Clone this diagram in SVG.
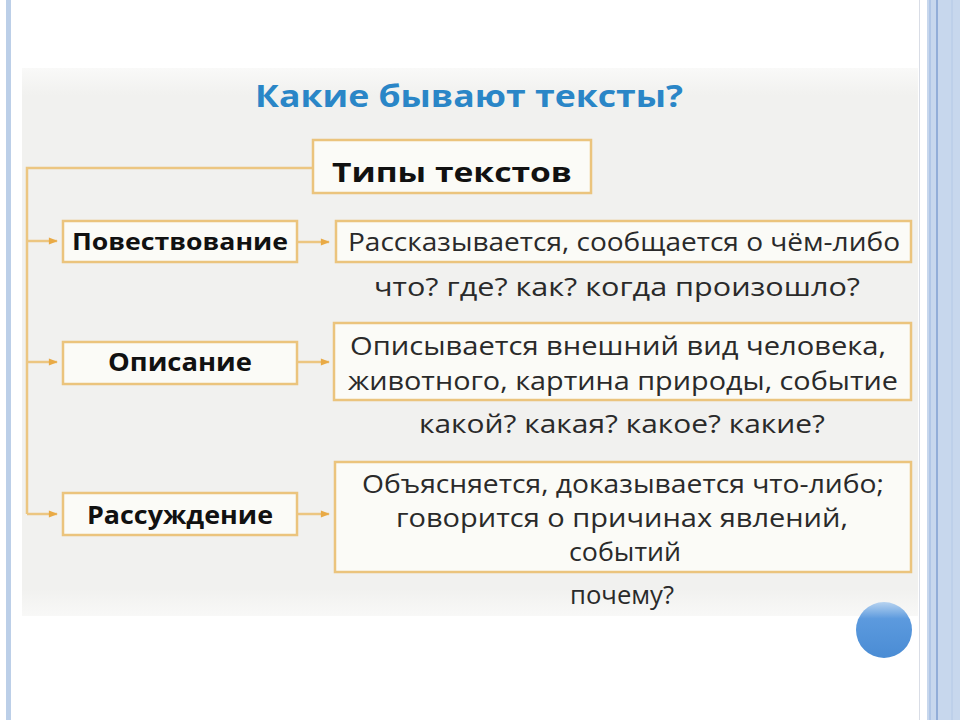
<svg xmlns="http://www.w3.org/2000/svg" width="960" height="720" viewBox="0 0 960 720">
<style>
.box{fill:#fbfbf7;stroke:#ebc47d;stroke-width:2.5}
.conn{fill:none;stroke:#ecc681;stroke-width:2.5}
.lbl{font-family:"Open Sans","DejaVu Sans",sans-serif;font-weight:700;fill:#111}
.txt{font-family:"Open Sans","DejaVu Sans",sans-serif;font-size:26px;fill:#2a2a2a}
</style>
<defs>
<marker id="ah" viewBox="0 0 10 10" refX="9" refY="5" markerWidth="11" markerHeight="9" markerUnits="userSpaceOnUse" orient="auto">
<path d="M0,1 L10,5 L0,9 Z" fill="#e9aa45"/>
</marker>
<linearGradient id="scan" x1="0" y1="0" x2="0" y2="1">
<stop offset="0" stop-color="#f9f9f8"/>
<stop offset="0.05" stop-color="#f1f1ef"/>
<stop offset="0.95" stop-color="#f1f1ef"/>
<stop offset="1" stop-color="#f8f8f7"/>
</linearGradient>
<linearGradient id="dot" x1="0" y1="0" x2="0" y2="1">
<stop offset="0" stop-color="#b7d3f0"/>
<stop offset="0.3" stop-color="#5c9ade"/>
<stop offset="1" stop-color="#4a8cd4"/>
</linearGradient>
</defs>
<rect x="0" y="0" width="960" height="720" fill="#ffffff"/>
<rect x="6" y="0" width="5" height="720" fill="#bccfe8"/>
<line x1="919.5" y1="0" x2="919.5" y2="720" stroke="#d9dde6" stroke-width="1"/>
<rect x="927" y="0" width="33" height="720" fill="#c7d7ed"/>
<line x1="930" y1="0" x2="930" y2="720" stroke="#a9c1e3" stroke-width="1.5"/>
<line x1="937" y1="0" x2="937" y2="720" stroke="#7f9fd1" stroke-width="1.5"/>
<line x1="952" y1="0" x2="952" y2="720" stroke="#b3c8e6" stroke-width="1"/>
<rect x="22" y="68" width="896" height="548" fill="url(#scan)"/>
<circle cx="884" cy="630" r="28" fill="url(#dot)"/>

<text x="255" y="107" font-family="'Open Sans','DejaVu Sans',sans-serif" font-weight="700" font-size="31" fill="#2a86c7" textLength="428" lengthAdjust="spacingAndGlyphs">Какие  бывают  тексты?</text>

<g id="connectors">
<path class="conn" d="M313,168 H27 V514"/>
<line class="conn" x1="27" y1="241" x2="57" y2="241" marker-end="url(#ah)"/>
<line class="conn" x1="27" y1="362" x2="57" y2="362" marker-end="url(#ah)"/>
<line class="conn" x1="27" y1="514" x2="57" y2="514" marker-end="url(#ah)"/>
<line class="conn" x1="297" y1="242" x2="329" y2="242" marker-end="url(#ah)"/>
<line class="conn" x1="297" y1="362" x2="329" y2="362" marker-end="url(#ah)"/>
<line class="conn" x1="297" y1="514" x2="329" y2="514" marker-end="url(#ah)"/>
</g>

<g id="types">
<rect class="box" x="313" y="140" width="278" height="53"/>
<text class="lbl" x="452" y="182" font-size="27" text-anchor="middle" textLength="240" lengthAdjust="spacingAndGlyphs">Типы  текстов</text>
</g>

<g id="narration">
<rect class="box" x="63" y="221" width="234" height="41"/>
<text class="lbl" x="180" y="250" font-size="24" text-anchor="middle" textLength="216" lengthAdjust="spacingAndGlyphs">Повествование</text>
</g>
<g id="narration-def">
<rect class="box" x="336" y="221" width="575" height="41"/>
<text class="txt" x="624" y="251" text-anchor="middle" textLength="552" lengthAdjust="spacingAndGlyphs">Рассказывается,  сообщается  о  чём-либо</text>
<text class="txt" x="617" y="296" text-anchor="middle" textLength="486" lengthAdjust="spacingAndGlyphs">что?  где?  как?  когда  произошло?</text>
</g>

<g id="description">
<rect class="box" x="63" y="342" width="234" height="42"/>
<text class="lbl" x="180" y="371" font-size="25" text-anchor="middle" textLength="144" lengthAdjust="spacingAndGlyphs">Описание</text>
</g>
<g id="description-def">
<rect class="box" x="334" y="323" width="577" height="77"/>
<text class="txt" x="618" y="355" text-anchor="middle" textLength="536" lengthAdjust="spacingAndGlyphs">Описывается  внешний  вид  человека,</text>
<text class="txt" x="623" y="390" text-anchor="middle" textLength="550" lengthAdjust="spacingAndGlyphs">животного,  картина  природы,  событие</text>
<text class="txt" x="622" y="433" text-anchor="middle" textLength="406" lengthAdjust="spacingAndGlyphs">какой?  какая?  какое?  какие?</text>
</g>

<g id="reasoning">
<rect class="box" x="63" y="493" width="234" height="42"/>
<text class="lbl" x="180" y="524" font-size="25" text-anchor="middle" textLength="186" lengthAdjust="spacingAndGlyphs">Рассуждение</text>
</g>
<g id="reasoning-def">
<rect class="box" x="335" y="462" width="576" height="110"/>
<text class="txt" x="623" y="493" text-anchor="middle" textLength="522" lengthAdjust="spacingAndGlyphs">Объясняется,  доказывается  что-либо;</text>
<text class="txt" x="622" y="527" font-size="24" text-anchor="middle" textLength="452" lengthAdjust="spacingAndGlyphs">говорится  о  причинах  явлений,</text>
<text class="txt" x="625" y="561" font-size="24" text-anchor="middle" textLength="112" lengthAdjust="spacingAndGlyphs">событий</text>
<text class="txt" x="622" y="604" text-anchor="middle" textLength="104" lengthAdjust="spacingAndGlyphs">почему?</text>
</g>
</svg>
